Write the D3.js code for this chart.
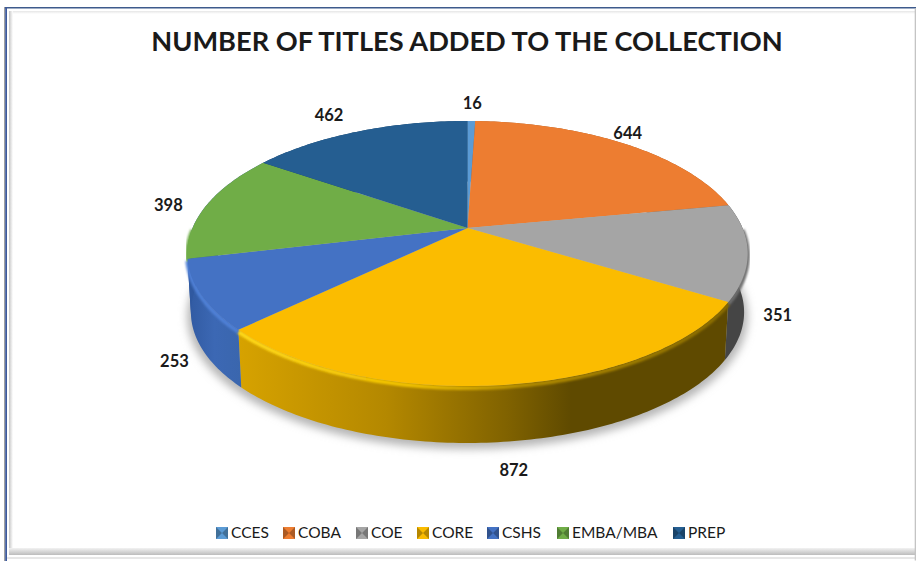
<!DOCTYPE html>
<html>
<head>
<meta charset="utf-8">
<script src="https://cdn.jsdelivr.net/npm/d3@7"></script>
<style>
  html, body { margin: 0; padding: 0; background: #fff; }
  svg { display: block; }
  text { font-family: Lato, "Open Sans", sans-serif; fill: #1a1a1a; }
</style>
</head>
<body>
<div id="chart"></div>
<script>
var categories = ["CCES", "COBA", "COE", "CORE", "CSHS", "EMBA/MBA", "PREP"];
var titles = [16, 644, 351, 872, 253, 398, 462];
var topColors = ["#5b9bd5", "#ed7d31", "#a5a5a5", "#fbbc00", "#4472c4", "#70ad47", "#255e91"];
var rimColors = ["#5b9bd5", "#ed7d31", "#6e6e6e", "url(#coreRim)", "#4f80d6", "#70ad47", "#255e91"];
// EMBA/MBA barely turns its side to the viewer, the blue of CSHS runs up to the edge
var sideColors = ["#3a6f9f", "#a85820", "#454545", "url(#coreSide)", "url(#cshsSide)", "#3059a0", "#1a4468"];
// label nudge away from the rim point at each slice's middle
var labelShift = [[1, -18], [4, -10], [30, 63], [10, 85], [-27, 66], [-38, 0], [-29, -16]];
// legend swatch left edges
var legendX = [216, 283, 356, 417, 487, 557, 673];

var width = 916, height = 561;
var cx = 467.5, cy = 228, radiusX = 275, radiusY = 127.6, tilt = 0.1925;
var depth = 59, bottomScale = 0.987;

var svg = d3.select("#chart").append("svg")
    .attr("width", width)
    .attr("height", height);

var defs = svg.append("defs");
defs.append("filter").attr("id", "soft").attr("x", "-10%").attr("y", "-10%").attr("width", "120%").attr("height", "120%")
    .append("feGaussianBlur").attr("stdDeviation", 4);
defs.append("filter").attr("id", "rimBlur").attr("x", "-10%").attr("y", "-10%").attr("width", "120%").attr("height", "120%")
    .append("feGaussianBlur").attr("stdDeviation", 1.1);

function gradient(id, x1, x2, stops) {
    var g = defs.append("linearGradient").attr("id", id)
        .attr("gradientUnits", "userSpaceOnUse")
        .attr("x1", x1).attr("x2", x2).attr("y1", 0).attr("y2", 0);
    stops.forEach(function(s) {
        g.append("stop").attr("offset", s[0]).attr("stop-color", s[1]);
    });
}
gradient("coreSide", 240, 727, [[0, "#d6a200"], [0.3, "#b48800"], [0.55, "#806200"], [0.68, "#5f4a00"], [1, "#5f4a00"]]);
gradient("coreRim", 240, 727, [[0, "#ffd91a"], [0.35, "#f2c200"], [0.6, "#b08a00"], [1, "#8a6c00"]]);
gradient("cshsSide", 186, 243, [[0, "#3059a0"], [0.5, "#3c68b4"], [1, "#3a66ad"]]);

// circle point -> picture, the near edge is drawn bigger than the far edge
function project(angle, scale, drop) {
    var u = Math.sin(angle), v = -Math.cos(angle);
    var w = 1 - tilt * v;
    return [cx + scale * radiusX * u / w, cy + scale * radiusY * v / w + drop];
}

function arcPoints(a0, a1, scale, drop) {
    var n = Math.max(2, Math.ceil((a1 - a0) * 60));
    return d3.range(n + 1).map(function(i) {
        return project(a0 + (a1 - a0) * i / n, scale, drop);
    });
}

var line = d3.line();
var slices = d3.pie().sort(null)(titles);
// only the near half of the rim shows its side
var frontStart = Math.PI * 0.5, frontEnd = Math.PI * 1.5;

// shadow under the pie
svg.append("path")
    .attr("d", line(arcPoints(0, 2 * Math.PI, 1.0, depth + 4)) + "Z")
    .attr("fill", "#b5b5b5")
    .attr("filter", "url(#soft)");

// sides
svg.selectAll(".side")
    .data(slices)
    .enter().append("path")
    .attr("class", "side")
    .attr("fill", function(d, i) { return sideColors[i]; })
    .attr("d", function(d) {
        var upper = arcPoints(d.startAngle, d.endAngle, 1, 0);
        var lower = arcPoints(d.startAngle, d.endAngle, bottomScale, depth).reverse();
        return line(upper.concat(lower)) + "Z";
    });

// bevel along the rim
svg.selectAll(".rim")
    .data(slices.filter(function(d) { return d.endAngle > frontStart && d.startAngle < frontEnd; }))
    .enter().append("path")
    .attr("class", "rim")
    .attr("fill", "none")
    .attr("stroke", function(d) { return rimColors[d.index]; })
    .attr("stroke-width", 4)
    .attr("filter", "url(#rimBlur)")
    .attr("d", function(d) {
        return line(arcPoints(Math.max(d.startAngle, frontStart), Math.min(d.endAngle, frontEnd), 1, 2));
    });

// top faces
svg.selectAll(".slice")
    .data(slices)
    .enter().append("path")
    .attr("class", "slice")
    .attr("fill", function(d, i) { return topColors[i]; })
    .attr("d", function(d) {
        return line([[cx, cy]].concat(arcPoints(d.startAngle, d.endAngle, 1, 0))) + "Z";
    });

// value labels
svg.selectAll(".value")
    .data(slices)
    .enter().append("text")
    .attr("class", "value")
    .attr("text-anchor", "middle")
    .attr("dy", "0.35em")
    .attr("font-size", 16.5)
    .attr("font-weight", 700)
    .attr("x", function(d, i) { return project((d.startAngle + d.endAngle) / 2, 1, 0)[0] + labelShift[i][0]; })
    .attr("y", function(d, i) { return project((d.startAngle + d.endAngle) / 2, 1, 0)[1] + labelShift[i][1]; })
    .text(function(d) { return d.value; });

// title
svg.append("text")
    .attr("x", 467)
    .attr("y", 51)
    .attr("text-anchor", "middle")
    .attr("font-size", 27.2)
    .attr("font-weight", 700)
    .attr("fill", "#0d0d0d")
    .text("NUMBER OF TITLES ADDED TO THE COLLECTION");

// legend
var legend = svg.selectAll(".legend")
    .data(categories)
    .enter().append("g")
    .attr("class", "legend")
    .attr("transform", function(d, i) { return "translate(" + legendX[i] + ",527)"; });
legend.append("rect")
    .attr("width", 12).attr("height", 12)
    .attr("fill", function(d, i) { return topColors[i]; });
legend.append("path")
    .attr("d", "M0,0L6,6L0,12ZM12,0L6,6L12,12Z")
    .attr("fill", "#000")
    .attr("opacity", 0.28);
legend.append("text")
    .attr("x", 15)
    .attr("y", 6)
    .attr("dy", "0.35em")
    .attr("font-size", 15.5)
    .attr("fill", "#3a3a3a")
    .text(function(d) { return d; });

// frame of the pasted chart
var band = defs.append("linearGradient").attr("id", "bottomBand").attr("x1", 0).attr("x2", 0).attr("y1", 0).attr("y2", 1);
band.append("stop").attr("offset", 0).attr("stop-color", "#f2f2f2");
band.append("stop").attr("offset", 1).attr("stop-color", "#bcbcbc");
var sideBand = defs.append("linearGradient").attr("id", "leftBand");
sideBand.append("stop").attr("offset", 0).attr("stop-color", "#c6c6c6");
sideBand.append("stop").attr("offset", 1).attr("stop-color", "#fff");
var topBand = defs.append("linearGradient").attr("id", "topBand").attr("x1", 0).attr("x2", 0).attr("y1", 0).attr("y2", 1);
topBand.append("stop").attr("offset", 0).attr("stop-color", "#e6e6e6");
topBand.append("stop").attr("offset", 1).attr("stop-color", "#fff");

var frame = svg.append("g");
frame.append("rect").attr("x", 9).attr("y", 11).attr("width", 907).attr("height", 3).attr("fill", "url(#topBand)");
frame.append("rect").attr("x", 9).attr("y", 11).attr("width", 4).attr("height", 544).attr("fill", "url(#leftBand)");
frame.append("rect").attr("x", 9).attr("y", 548).attr("width", 907).attr("height", 7).attr("fill", "url(#bottomBand)");
frame.append("rect").attr("x", 7).attr("y", 557.5).attr("width", 909).attr("height", 1).attr("fill", "#cfcfcf");
frame.append("rect").attr("x", 4).attr("y", 7).attr("width", 1.2).attr("height", 554).attr("fill", "#a0a0a0");
frame.append("rect").attr("x", 5).attr("y", 7).attr("width", 911).attr("height", 1.5).attr("fill", "#3d5a8c");
frame.append("rect").attr("x", 5.2).attr("y", 7).attr("width", 1.8).attr("height", 554).attr("fill", "#3d5a9c");
frame.append("rect").attr("x", 914.7).attr("y", 8.5).attr("width", 1.3).attr("height", 552).attr("fill", "#c4c4c4");
</script>
</body>
</html>
